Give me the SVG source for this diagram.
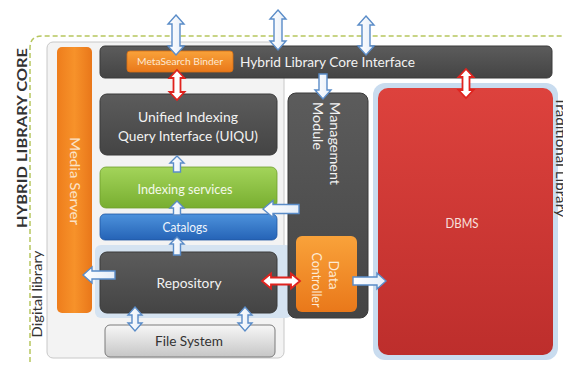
<svg xmlns="http://www.w3.org/2000/svg" width="563" height="365" viewBox="0 0 563 365">
  <defs>
    <linearGradient id="gDark" x1="0" y1="0" x2="0" y2="1">
      <stop offset="0" stop-color="#5c5c5c"/>
      <stop offset="1" stop-color="#444444"/>
    </linearGradient>
    <linearGradient id="gOrange" x1="0" y1="0" x2="0" y2="1">
      <stop offset="0" stop-color="#f9a23a"/>
      <stop offset="1" stop-color="#e9781a"/>
    </linearGradient>
    <linearGradient id="gMedia" x1="0" y1="0" x2="1" y2="0">
      <stop offset="0" stop-color="#ee7d1c"/>
      <stop offset="0.5" stop-color="#f7922a"/>
      <stop offset="1" stop-color="#e9771a"/>
    </linearGradient>
    <linearGradient id="gGreen" x1="0" y1="0" x2="0" y2="1">
      <stop offset="0" stop-color="#a3d45a"/>
      <stop offset="1" stop-color="#78ae30"/>
    </linearGradient>
    <linearGradient id="gBlue" x1="0" y1="0" x2="0" y2="1">
      <stop offset="0" stop-color="#4d92dc"/>
      <stop offset="1" stop-color="#2563b6"/>
    </linearGradient>
    <linearGradient id="gRed" x1="0" y1="0" x2="0" y2="1">
      <stop offset="0" stop-color="#dd423d"/>
      <stop offset="1" stop-color="#bd2e2c"/>
    </linearGradient>
    <linearGradient id="gFile" x1="0" y1="0" x2="0" y2="1">
      <stop offset="0" stop-color="#f7f7f7"/>
      <stop offset="1" stop-color="#c6c6c6"/>
    </linearGradient>
    <linearGradient id="gArrow" x1="0" y1="0" x2="1" y2="0">
      <stop offset="0" stop-color="#ffffff"/>
      <stop offset="1" stop-color="#e6eef8"/>
    </linearGradient>
  </defs>
  <style>
    text { font-family: Lato, "Open Sans", "Liberation Sans", sans-serif; }
    .box-dark { fill: url(#gDark); stroke: #3a3a3a; stroke-width: 1; }
    .light { fill: #f2f2f2; font-size: 13px; }
    .ink { fill: #333333; }
    .arrow-blue { fill: url(#gArrow); stroke: #5a8cc8; stroke-width: 1.4; stroke-linejoin: miter; }
    .arrow-red { fill: #ffffff; stroke: #e0231e; stroke-width: 1.8; stroke-linejoin: miter; }
  </style>

  <rect width="563" height="365" fill="#ffffff"/>

  <!-- outer boundary of the hybrid library core -->
  <g id="hybrid-library-core">
    <path d="M30 362 L30 48 Q30 36 42 36 L563 36" fill="none" stroke="#b6c65e" stroke-width="1.5" stroke-dasharray="5 3"/>
    <text class="ink" transform="translate(22,138) rotate(-90)" text-anchor="middle" dy="0.36em" font-size="13" font-weight="bold" textLength="180" lengthAdjust="spacingAndGlyphs">HYBRID LIBRARY CORE</text>
  </g>

  <!-- digital library area -->
  <g id="digital-library">
    <rect x="47" y="42" width="237" height="316" rx="6" fill="#f3f3f3" stroke="#c8c8c8"/>
    <rect x="95" y="245" width="197" height="73" rx="6" fill="#d5e3f1"/>
    <text class="ink" transform="translate(37,294) rotate(-90)" text-anchor="middle" dy="0.36em" font-size="13" textLength="87" lengthAdjust="spacingAndGlyphs">Digital library</text>
  </g>

  <!-- traditional library area -->
  <g id="traditional-library">
    <rect x="373" y="83" width="185" height="277" rx="12" fill="#c9dcef"/>
    <text class="ink" transform="translate(561,97) rotate(90)" dy="0.36em" font-size="13" textLength="120" lengthAdjust="spacingAndGlyphs">Traditional Library</text>
  </g>

  <g id="media-server">
    <rect x="57" y="47" width="35" height="266" rx="5" fill="url(#gMedia)"/>
    <text transform="translate(75,181) rotate(90)" text-anchor="middle" dy="0.36em" font-size="13" fill="#fbe3c8" textLength="88" lengthAdjust="spacingAndGlyphs">Media Server</text>
  </g>

  <g id="core-interface">
    <rect class="box-dark" x="100" y="46" width="452" height="32" rx="5"/>
    <text class="light" x="240" y="67" font-size="13.5" textLength="175" lengthAdjust="spacingAndGlyphs">Hybrid Library Core Interface</text>
  </g>

  <g id="metasearch-binder">
    <rect x="127" y="51" width="106" height="21" rx="3" fill="url(#gOrange)" stroke="#d86e12" stroke-width="0.8"/>
    <text x="180" y="65" text-anchor="middle" font-size="9.5" fill="#fde8d2" textLength="86" lengthAdjust="spacingAndGlyphs">MetaSearch Binder</text>
  </g>

  <g id="uiqu">
    <rect class="box-dark" x="100" y="94" width="177" height="61" rx="7"/>
    <text class="light" x="188" y="122" text-anchor="middle" font-size="14" textLength="100" lengthAdjust="spacingAndGlyphs">Unified Indexing</text>
    <text class="light" x="188" y="141" text-anchor="middle" font-size="14" textLength="140" lengthAdjust="spacingAndGlyphs">Query Interface (UIQU)</text>
  </g>

  <g id="indexing-services">
    <rect x="100" y="167" width="177" height="41" rx="6" fill="url(#gGreen)" stroke="#6e9e2c" stroke-width="0.8"/>
    <text x="185" y="194" text-anchor="middle" font-size="13.5" fill="#f4f9ea" textLength="95" lengthAdjust="spacingAndGlyphs">Indexing services</text>
  </g>

  <g id="catalogs">
    <rect x="100" y="214" width="177" height="26" rx="5" fill="url(#gBlue)" stroke="#1f57a2" stroke-width="0.8"/>
    <text x="185" y="232" text-anchor="middle" font-size="13" fill="#eef4fc" textLength="45" lengthAdjust="spacingAndGlyphs">Catalogs</text>
  </g>

  <g id="repository">
    <rect class="box-dark" x="100" y="252" width="177" height="61" rx="7"/>
    <text class="light" x="189" y="288" text-anchor="middle" font-size="13.5" textLength="65" lengthAdjust="spacingAndGlyphs">Repository</text>
  </g>

  <g id="file-system">
    <rect x="105" y="325" width="170" height="32" rx="5" fill="url(#gFile)" stroke="#7a7a7a"/>
    <text class="ink" x="189" y="346" text-anchor="middle" font-size="13.5" textLength="68" lengthAdjust="spacingAndGlyphs">File System</text>
  </g>

  <g id="management-module">
    <rect class="box-dark" x="288" y="93" width="80" height="225" rx="8"/>
    <text class="light" transform="translate(335,102) rotate(90)" dy="0.36em" font-size="13" textLength="83" lengthAdjust="spacingAndGlyphs">Management</text>
    <text class="light" transform="translate(318,102) rotate(90)" dy="0.36em" font-size="13" textLength="48" lengthAdjust="spacingAndGlyphs">Module</text>
  </g>

  <g id="data-controller">
    <rect x="296" y="236" width="61" height="76" rx="6" fill="url(#gOrange)"/>
    <text transform="translate(334,275) rotate(90)" text-anchor="middle" dy="0.36em" font-size="13" fill="#fdebd6" textLength="29" lengthAdjust="spacingAndGlyphs">Data</text>
    <text transform="translate(317,280) rotate(90)" text-anchor="middle" dy="0.36em" font-size="13" fill="#fdebd6" textLength="55" lengthAdjust="spacingAndGlyphs">Controller</text>
  </g>

  <g id="dbms">
    <rect x="378" y="88" width="175" height="267" rx="10" fill="url(#gRed)"/>
    <text x="462" y="228" text-anchor="middle" font-size="14" fill="#f8e0de" textLength="33" lengthAdjust="spacingAndGlyphs">DBMS</text>
  </g>

  <!-- connectors: block arrows -->
  <g id="connectors">
    <path class="arrow-blue" d="M176 15 L184 24 L180 24 L180 46 L184 46 L176 55 L168 46 L172 46 L172 24 L168 24 Z"/>
    <path class="arrow-blue" d="M278 10 L286 19 L282 19 L282 41 L286 41 L278 50 L270 41 L274 41 L274 19 L270 19 Z"/>
    <path class="arrow-blue" d="M366 16 L374 25 L370 25 L370 46 L374 46 L366 55 L358 46 L362 46 L362 25 L358 25 Z"/>
    <path class="arrow-red" d="M177 70 L184.5 78 L180.5 78 L180.5 92 L184.5 92 L177 100 L169.5 92 L173.5 92 L173.5 78 L169.5 78 Z"/>
    <path class="arrow-red" d="M466 69 L473.5 77 L469.5 77 L469.5 90 L473.5 90 L466 98 L458.5 90 L462.5 90 L462.5 77 L458.5 77 Z"/>
    <path class="arrow-blue" d="M319 74 L327 74 L327 90 L331 90 L323 99 L315 90 L319 90 Z"/>
    <path class="arrow-blue" d="M177 156 L184 163 L180.5 163 L180.5 172 L173.5 172 L173.5 163 L170 163 Z"/>
    <path class="arrow-blue" d="M177 201 L184 208 L180.5 208 L180.5 215 L173.5 215 L173.5 208 L170 208 Z"/>
    <path class="arrow-blue" d="M177 237 L184 244 L180.5 244 L180.5 255 L173.5 255 L173.5 244 L170 244 Z"/>
    <path class="arrow-blue" d="M263 209 L273 200.5 L273 204.5 L299 204.5 L299 213.5 L273 213.5 L273 217.5 Z"/>
    <path class="arrow-blue" d="M83 275 L92 267 L92 271 L115 271 L115 279 L92 279 L92 283 Z"/>
    <path class="arrow-red" d="M262 281 L271 273.5 L271 277.5 L291 277.5 L291 273.5 L300 281 L291 288.5 L291 284.5 L271 284.5 L271 288.5 Z"/>
    <path class="arrow-blue" d="M386 281 L377 273 L377 277 L353 277 L353 285 L377 285 L377 289 Z"/>
    <path class="arrow-blue" d="M135 307 L142 315 L138 315 L138 323 L142 323 L135 331 L128 323 L132 323 L132 315 L128 315 Z"/>
    <path class="arrow-blue" d="M245 307 L252 315 L248 315 L248 323 L252 323 L245 331 L238 323 L242 323 L242 315 L238 315 Z"/>
  </g>
</svg>
